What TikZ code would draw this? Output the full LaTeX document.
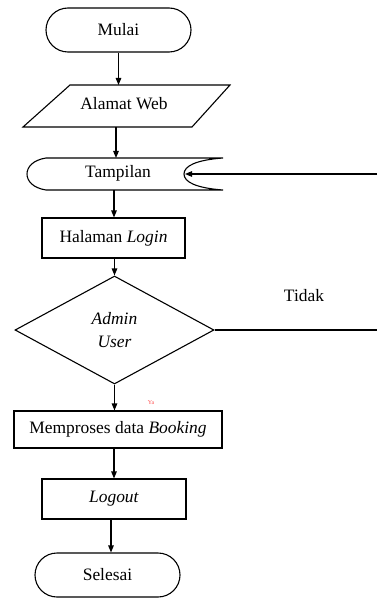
\documentclass[tikz,border=0pt]{standalone}
\usepackage{fontspec}
\setmainfont{Liberation Serif}
\usetikzlibrary{shapes.geometric,arrows.meta}
\begin{document}
\begin{tikzpicture}[x=1bp,y=-1bp,line width=1.1bp,
  font=\fontsize{17.5}{21}\selectfont,
  arr/.style={-{Triangle[length=7bp,width=5.5bp]}},
  term/.style={draw,rounded corners=22bp,minimum width=145bp,minimum height=44bp,inner sep=0pt},
  proc/.style={draw,minimum height=40bp,inner sep=0pt},
  dec/.style={draw,diamond,minimum width=199bp,minimum height=108bp,inner sep=0pt,align=center,font=\fontsize{17.5}{23}\selectfont\itshape},
  lbl/.style={inner sep=0pt}]
\useasboundingbox (0,0) rectangle (377,599);
% Mulai
\node[term] (mulai) at (118.5,30) {Mulai};
% Alamat Web (parallelogram)
\draw (70,85) -- (230,85) -- (192,127) -- (23,127) -- cycle;
\node[lbl] (alamat) at (124,104) {Alamat Web};
\coordinate (alamatT) at (118.5,85);
\coordinate (alamatB) at (116,127);
% Tampilan (display)
\draw (46,158) -- (223,158) .. controls (196,160) and (184,166) .. (184,174)
      .. controls (184,182) and (196,188) .. (223,190) -- (46,190)
      .. controls (33,188) and (27,181) .. (27,174)
      .. controls (27,167) and (33,160) .. (46,158);
\node[lbl] (tampil) at (118,173) {Tampilan};
\coordinate (tampilT) at (116,158);
\coordinate (tampilB) at (114,190);
\coordinate (tampilR) at (185,174);
% Halaman Login
\node[proc,minimum width=143bp] (login) at (113.5,238) {Halaman \textit{Login}};
% Decision
\node[dec] (dec) at (114.5,330) {Admin\\User};
% Memproses
\node[proc,minimum width=208bp,minimum height=37bp] (proses) at (118,429.5) {Memproses data \textit{Booking}};
% Logout
\node[proc,minimum width=144bp] (logout) at (114,499) {\textit{Logout}};
% Selesai
\node[term] (selesai) at (107.5,575) {Selesai};
% right side
\coordinate (rTop) at (377,174);
\coordinate (rMid) at (377,330);
\node[lbl] (tidak) at (304,296) {Tidak};
\node[lbl,font=\fontsize{6}{7}\selectfont,text=red!70] (ya) at (151,403) {Ya};
% connectors
\draw[arr] (mulai.south) -- (alamatT);
\draw[arr] (alamatB) -- (tampilT);
\draw[arr] (tampilB) -- (login.north -| tampilB);
\draw[arr] (login.south -| dec.north) -- (dec.north);
\draw[arr] (dec.south) -- (dec.south |- proses.north);
\draw[arr] (proses.south -| logout.north) -- (logout.north);
\draw[arr] (logout.south -| 111,0) -- (selesai.north -| 111,0);
\draw (dec.east) -- (rMid);
\draw[arr] (rTop) -- (tampilR);
\end{tikzpicture}
\end{document}
